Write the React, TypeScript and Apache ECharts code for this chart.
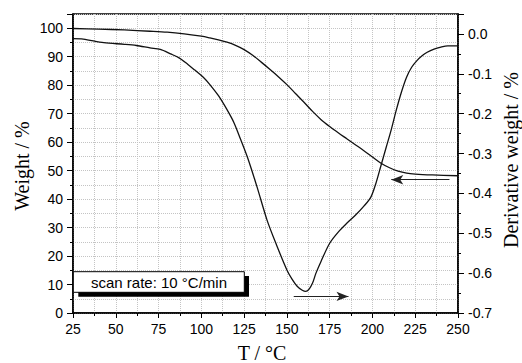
import React, { useEffect, useRef } from "react";
import * as echarts from "echarts";

// Weight (TGA) curve, left axis
const weightT = [25, 40, 55, 70, 80, 90, 100, 105, 110, 115, 120, 125, 130, 135, 140, 145, 150, 155, 160, 165, 170, 175, 180, 185, 190, 195, 200, 205, 210, 215, 220, 225, 235, 250];
const weightVals = [99.9, 99.7, 99.4, 98.95, 98.6, 98.0, 97.2, 96.6, 95.9, 95.1, 94.0, 92.5, 90.5, 88.1, 85.6, 83.0, 80.2, 77.1, 74.0, 70.8, 67.9, 65.5, 63.3, 61.2, 59.1, 57.0, 54.8, 52.6, 51.0, 49.8, 49.1, 48.8, 48.5, 48.2];

// Derivative weight (DTG) curve, right axis
const dtgT = [25, 31, 43, 55, 62, 70, 76, 82, 87, 92, 96, 101, 105, 110, 115, 119, 123, 127, 132.5, 138.4, 144, 150, 153, 156, 159, 161, 163, 165, 167, 170, 175, 180, 185, 190, 195, 199, 202, 205, 208, 211, 214, 217, 220, 223, 226, 229, 232, 236, 240, 244, 250];
const dtgVals = [-0.012, -0.013, -0.022, -0.026, -0.029, -0.035, -0.039, -0.05, -0.06, -0.076, -0.09, -0.108, -0.127, -0.155, -0.19, -0.222, -0.265, -0.31, -0.383, -0.467, -0.53, -0.592, -0.615, -0.633, -0.643, -0.646, -0.64, -0.625, -0.6, -0.57, -0.525, -0.497, -0.475, -0.455, -0.432, -0.41, -0.375, -0.33, -0.285, -0.24, -0.19, -0.145, -0.108, -0.083, -0.067, -0.055, -0.046, -0.038, -0.033, -0.03, -0.03];

// Arrows (annotations)
const weightArrow = [[245, 46.8], [211, 46.8]];
const dtgArrow = [[154, -0.6585], [186, -0.6585]];

const boxText = "scan rate: 10 °C/min";

export default function App() {
  const ref = useRef<HTMLDivElement>(null);
  useEffect(() => {
    if (!ref.current) return;
    const chart = echarts.init(ref.current, null, { renderer: "svg" });
    const weightData = weightT.map((t, i) => [t, weightVals[i]]);
    const dtgData = dtgT.map((t, i) => [t, dtgVals[i]]);
    const gridLine = { show: true, lineStyle: { color: "#c4c4c4", type: "dotted", width: 1 } };
    const labelFont = { color: "#000", fontSize: 14, fontFamily: "'Liberation Sans', Arial, sans-serif" };
    const axisLineStyle = { show: true, lineStyle: { color: "#000", width: 1.5 } };
    const arrowLine = (pts: number[][]) => ({
      silent: true,
      symbol: ["none", "arrow"],
      symbolSize: [7, 12],
      label: { show: false },
      lineStyle: { color: "#222", width: 1, type: "solid" },
      emphasis: { disabled: true },
      data: [[{ coord: pts[0] }, { coord: pts[1] }]],
    });
    chart.setOption({
      animation: false,
      backgroundColor: "#fff",
      grid: { left: 73, right: 64, top: 14, bottom: 50, show: true, borderColor: "#000", borderWidth: 1.5 },
      xAxis: {
        type: "value",
        min: 25,
        max: 250,
        interval: 25,
        axisLine: axisLineStyle,
        axisTick: { show: true, length: 5, lineStyle: { color: "#000" } },
        minorTick: { show: true, splitNumber: 2, length: 3, lineStyle: { color: "#000" } },
        axisLabel: { ...labelFont, margin: 9 },
        splitLine: gridLine,
        minorSplitLine: gridLine,
      },
      yAxis: [
        {
          type: "value",
          position: "left",
          min: 0,
          max: 105,
          interval: 10,
          axisLine: axisLineStyle,
          axisTick: { show: true, length: 6, lineStyle: { color: "#000" } },
          minorTick: { show: true, splitNumber: 2, length: 3, lineStyle: { color: "#000" } },
          axisLabel: { ...labelFont, margin: 10, showMaxLabel: false, formatter: (v: number) => (v > 100 ? "" : String(v)) },
          splitLine: { show: false },
        },
        {
          type: "value",
          position: "right",
          min: -0.7,
          max: 0.05,
          interval: 0.1,
          axisLine: axisLineStyle,
          axisTick: { show: true, length: 6, lineStyle: { color: "#000" } },
          minorTick: { show: true, splitNumber: 2, length: 3, lineStyle: { color: "#000" } },
          axisLabel: { ...labelFont, margin: 10, showMaxLabel: false, formatter: (v: number) => (v > 0.01 ? "" : v.toFixed(1)) },
          splitLine: { show: false },
        },
        {
          type: "value",
          position: "left",
          min: 0,
          max: 105,
          interval: 5,
          axisLine: { show: false },
          axisTick: { show: false },
          axisLabel: { show: false },
          splitLine: gridLine,
        },
      ],
      series: [
        {
          type: "line",
          yAxisIndex: 0,
          data: weightData,
          showSymbol: false,
          smooth: 0.3,
          lineStyle: { color: "#111", width: 1.3 },
          silent: true,
          markLine: arrowLine(weightArrow),
        },
        {
          type: "line",
          yAxisIndex: 1,
          data: dtgData,
          showSymbol: false,
          smooth: 0.3,
          lineStyle: { color: "#111", width: 1.3 },
          silent: true,
          markLine: arrowLine(dtgArrow),
        },
      ],
      graphic: [
        { type: "rect", shape: { x: 78.3, y: 276, width: 170.7, height: 20.7 }, style: { fill: "#000" }, z: 100 },
        { type: "rect", shape: { x: 73.3, y: 271.7, width: 171, height: 20.6 }, style: { fill: "#fff", stroke: "#000", lineWidth: 1 }, z: 101 },
        {
          type: "text",
          x: 159,
          y: 282,
          z: 102,
          style: { text: boxText, fill: "#000", fontSize: 15, fontFamily: "'Liberation Sans', Arial, sans-serif", align: "center", verticalAlign: "middle" },
        },
        {
          type: "text",
          x: 22,
          y: 166,
          rotation: Math.PI / 2,
          style: { text: "Weight / %", fill: "#000", fontSize: 20, fontFamily: "'Liberation Serif', 'Times New Roman', serif", align: "center", verticalAlign: "middle" },
        },
        {
          type: "text",
          x: 511,
          y: 160,
          rotation: Math.PI / 2,
          style: { text: "Derivative weight / %", fill: "#000", fontSize: 20, fontFamily: "'Liberation Serif', 'Times New Roman', serif", align: "center", verticalAlign: "middle" },
        },
        {
          type: "text",
          x: 262,
          y: 353,
          style: { text: "T / °C", fill: "#000", fontSize: 20, fontFamily: "'Liberation Serif', 'Times New Roman', serif", align: "center", verticalAlign: "middle" },
        },
      ],
    });
    return () => chart.dispose();
  }, []);
  return <div ref={ref} style={{ width: 522, height: 363, position: "absolute", left: 0, top: 0 }} />;
}
